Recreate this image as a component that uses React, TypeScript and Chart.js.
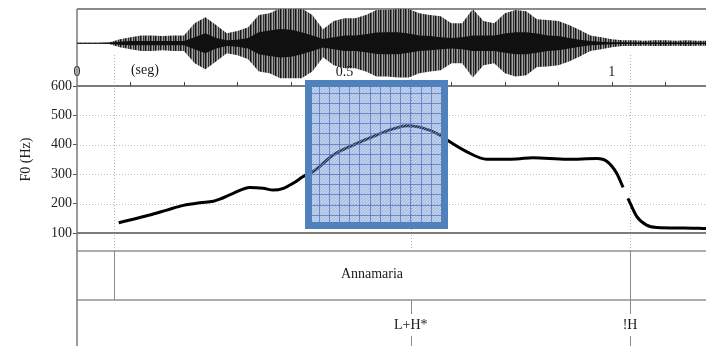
import { useEffect, useRef } from 'react';
import { Chart, registerables } from 'chart.js';

Chart.register(...registerables);

const SERIF = "'Liberation Serif', 'Times New Roman', serif";

// Waveform envelope, sampled every 20 ms (normalised amplitude)
const waveTimes = [
  0, 0.02, 0.04, 0.06, 0.08, 0.1, 0.12, 0.14, 0.16, 0.18,
  0.2, 0.22, 0.24, 0.26, 0.28, 0.3, 0.32, 0.34, 0.36, 0.38,
  0.4, 0.42, 0.44, 0.46, 0.48, 0.5, 0.52, 0.54, 0.56, 0.58,
  0.6, 0.62, 0.64, 0.66, 0.68, 0.7, 0.72, 0.74, 0.76, 0.78,
  0.8, 0.82, 0.84, 0.86, 0.88, 0.9, 0.92, 0.94, 0.96, 0.98,
  1.0, 1.02, 1.04, 1.06, 1.08, 1.1, 1.12, 1.14, 1.16, 1.18,
];
const waveOuter = [
  0.014, 0.014, 0.014, 0.022, 0.11, 0.17, 0.22, 0.22, 0.2, 0.22,
  0.22, 0.56, 0.73, 0.51, 0.28, 0.34, 0.45, 0.79, 0.84, 0.98,
  0.98, 0.98, 0.79, 0.39, 0.62, 0.7, 0.7, 0.79, 0.93, 0.93,
  0.96, 0.96, 0.84, 0.79, 0.76, 0.56, 0.56, 0.96, 0.62, 0.56,
  0.84, 0.93, 0.9, 0.67, 0.65, 0.62, 0.51, 0.37, 0.22, 0.17,
  0.11, 0.08, 0.08, 0.07, 0.08, 0.08, 0.07, 0.08, 0.07, 0.07,
];
const waveCore = [
  0.014, 0.014, 0.014, 0.017, 0.04, 0.06, 0.06, 0.06, 0.06, 0.06,
  0.06, 0.17, 0.28, 0.15, 0.08, 0.1, 0.15, 0.31, 0.36, 0.4,
  0.38, 0.31, 0.22, 0.12, 0.17, 0.22, 0.22, 0.25, 0.3, 0.31,
  0.31, 0.27, 0.22, 0.2, 0.17, 0.15, 0.17, 0.22, 0.22, 0.22,
  0.27, 0.31, 0.31, 0.27, 0.22, 0.2, 0.15, 0.1, 0.06, 0.04,
  0.03, 0.025, 0.02, 0.02, 0.02, 0.02, 0.02, 0.02, 0.02, 0.02,
];

// F0 contour (s, Hz); null marks the voicing break
const f0Times = [
  0.078, 0.105, 0.136, 0.168, 0.199, 0.23, 0.255, 0.267, 0.292, 0.323,
  0.348, 0.367, 0.386, 0.404, 0.423, 0.443, 0.479, 0.516, 0.553, 0.591,
  0.617, 0.641, 0.679, 0.692, 0.729, 0.766, 0.822, 0.852, 0.916, 0.972,
  0.991, 1.009, 1.021, 1.025, 1.03, 1.047, 1.065, 1.084, 1.133, 1.176,
];
const f0Hz = [
  135, 147, 161, 178, 194, 203, 208, 215, 235, 255,
  252, 246, 252, 269, 292, 311, 365, 399, 428, 454,
  465, 460, 433, 416, 376, 351, 352, 356, 351, 353,
  343, 303, 255, null, 218, 155, 127, 119, 117, 115,
];

const f0TickValues = [100, 200, 300, 400, 500, 600];
const timeMinorTicks = [0.1, 0.2, 0.3, 0.4, 0.5, 0.6, 0.7, 0.8, 0.9, 1.0, 1.1];
const timeLabelValues = [0, 0.5, 1];
const timeLabels = ['0', '0.5', '1'];
const timeUnit = '(seg)';
const timeUnitAt = 0.127;

// Annotation tiers
const words = ['Annamaria'];
const wordStarts = [0.069];
const wordEnds = [1.034];
const tones = ['L+H*', '!H'];
const toneTimes = [0.624, 1.034];

// Highlighted region (time span and Hz span)
const highlight = { from: 0.426, to: 0.6935, hzTop: 620, hzBottom: 113 };

const T_MAX = 1.176;

// vertical hairline texture for the oscillation band
function makeStripe(ctx: CanvasRenderingContext2D) {
  const c = document.createElement('canvas');
  c.width = 5;
  c.height = 1;
  const g = c.getContext('2d')!;
  ['#151515', '#5e5e5e', '#a8a8a8', '#2e2e2e', '#858585'].forEach((col, i) => {
    g.fillStyle = col;
    g.fillRect(i, 0, 1, 1);
  });
  return ctx.createPattern(c, 'repeat')!;
}

function makeSpeckle(ctx: CanvasRenderingContext2D) {
  const c = document.createElement('canvas');
  c.width = 3;
  c.height = 3;
  const g = c.getContext('2d')!;
  g.fillStyle = 'rgba(255,255,255,0.35)';
  g.fillRect(0, 0, 1, 1);
  g.fillRect(2, 1, 1, 1);
  g.fillRect(1, 2, 1, 1);
  return ctx.createPattern(c, 'repeat')!;
}

const crisp = (v: number) => Math.round(v) + 0.5;

const decorations = {
  id: 'decorations',
  beforeDatasetsDraw(chart: any) {
    const { ctx, chartArea: a, scales } = chart;
    const x = scales.x;
    const y = scales.y;
    const yt = scales.yt;
    const yw = scales.yw;
    ctx.save();

    // dotted F0 grid
    ctx.strokeStyle = '#c2c2c2';
    ctx.lineWidth = 1;
    ctx.setLineDash([1, 2]);
    for (const v of f0TickValues) {
      if (v === 100 || v === 600) continue;
      const py = crisp(y.getPixelForValue(v));
      ctx.beginPath();
      ctx.moveTo(a.left, py);
      ctx.lineTo(a.right, py);
      ctx.stroke();
    }

    // dotted time guides
    const guideTop = yw.getPixelForValue(-0.33);
    const tierTop = yt.getPixelForValue(0.841);
    ctx.strokeStyle = '#b4b4b4';
    for (const t of [wordStarts[0], toneTimes[0], wordEnds[0]]) {
      const px = crisp(x.getPixelForValue(t));
      ctx.beginPath();
      ctx.moveTo(px, guideTop);
      ctx.lineTo(px, tierTop);
      ctx.stroke();
    }
    ctx.setLineDash([]);

    // panel frame lines
    ctx.strokeStyle = '#8a8a8a';
    ctx.lineWidth = 2;
    ctx.beginPath();
    ctx.moveTo(a.left, a.top);
    ctx.lineTo(a.right, a.top);
    ctx.stroke();
    ctx.strokeStyle = '#7c7c7c';
    for (const v of [600, 100]) {
      const py = Math.round(y.getPixelForValue(v));
      ctx.beginPath();
      ctx.moveTo(a.left, py);
      ctx.lineTo(a.right, py);
      ctx.stroke();
    }

    // tier lines
    ctx.strokeStyle = '#929292';
    ctx.lineWidth = 1.5;
    for (const v of [0.841, 0.407]) {
      const py = Math.round(yt.getPixelForValue(v));
      ctx.beginPath();
      ctx.moveTo(a.left, py);
      ctx.lineTo(a.right, py);
      ctx.stroke();
    }

    // left axis line
    ctx.strokeStyle = '#7a7a7a';
    ctx.lineWidth = 1.5;
    ctx.beginPath();
    ctx.moveTo(a.left, a.top);
    ctx.lineTo(a.left, a.bottom);
    ctx.stroke();

    // time ticks
    const axisY = Math.round(y.getPixelForValue(600));
    ctx.strokeStyle = '#444';
    ctx.lineWidth = 1;
    for (const t of timeMinorTicks) {
      const px = crisp(x.getPixelForValue(t));
      ctx.beginPath();
      ctx.moveTo(px, axisY - 4);
      ctx.lineTo(px, axisY);
      ctx.stroke();
    }

    // word tier
    ctx.fillStyle = '#1a1a1a';
    ctx.font = `14px ${SERIF}`;
    ctx.textAlign = 'center';
    const wTop = Math.round(yt.getPixelForValue(0.841));
    const wBot = Math.round(yt.getPixelForValue(0.407));
    ctx.strokeStyle = '#8a8a8a';
    ctx.lineWidth = 1;
    words.forEach((w, i) => {
      for (const t of [wordStarts[i], wordEnds[i]]) {
        const px = crisp(x.getPixelForValue(t));
        ctx.beginPath();
        ctx.moveTo(px, wTop);
        ctx.lineTo(px, wBot);
        ctx.stroke();
      }
      const mid = (x.getPixelForValue(wordStarts[i]) + x.getPixelForValue(wordEnds[i])) / 2;
      ctx.textBaseline = 'middle';
      ctx.fillText(w, mid, yt.getPixelForValue(0.637));
    });

    // tone tier
    const segA = yt.getPixelForValue(0.283);
    const segB = yt.getPixelForValue(0.088);
    tones.forEach((tn, i) => {
      const px = crisp(x.getPixelForValue(toneTimes[i]));
      ctx.beginPath();
      ctx.moveTo(px, wBot);
      ctx.lineTo(px, segA);
      ctx.moveTo(px, segB);
      ctx.lineTo(px, a.bottom);
      ctx.stroke();
      ctx.fillText(tn, x.getPixelForValue(toneTimes[i]), yt.getPixelForValue(0.186));
    });

    ctx.restore();
  },
  afterDatasetsDraw(chart: any) {
    const { ctx, scales } = chart;
    const x = scales.x;
    const y = scales.y;
    ctx.save();

    // time labels sit on top of the waveform
    const axisY = Math.round(y.getPixelForValue(600));
    ctx.fillStyle = '#1a1a1a';
    ctx.font = `14px ${SERIF}`;
    ctx.textAlign = 'center';
    ctx.textBaseline = 'alphabetic';
    timeLabelValues.forEach((t, i) => {
      ctx.fillText(timeLabels[i], x.getPixelForValue(t), axisY - 10);
    });
    ctx.fillText(timeUnit, x.getPixelForValue(timeUnitAt), axisY - 12);

    // highlighted region
    const x1 = Math.round(x.getPixelForValue(highlight.from));
    const x2 = Math.round(x.getPixelForValue(highlight.to));
    const y1 = Math.round(y.getPixelForValue(highlight.hzTop));
    const y2 = Math.round(y.getPixelForValue(highlight.hzBottom));
    const bw = 7;
    ctx.fillStyle = '#4f81bd';
    ctx.fillRect(x1, y1, x2 - x1, bw);
    ctx.fillRect(x1, y2 - bw, x2 - x1, bw);
    ctx.fillRect(x1, y1, bw, y2 - y1);
    ctx.fillRect(x2 - bw, y1, bw, y2 - y1);
    const ix1 = x1 + bw, iy1 = y1 + bw, ix2 = x2 - bw, iy2 = y2 - bw;
    ctx.fillStyle = 'rgba(83,125,198,0.48)';
    ctx.fillRect(ix1, iy1, ix2 - ix1, iy2 - iy1);
    ctx.fillStyle = makeSpeckle(ctx);
    ctx.fillRect(ix1, iy1, ix2 - ix1, iy2 - iy1);
    ctx.strokeStyle = 'rgba(70,112,188,0.7)';
    ctx.lineWidth = 1;
    ctx.beginPath();
    for (let gx = ix1 + 6.7; gx < ix2; gx += 10.2) {
      ctx.moveTo(Math.round(gx) + 0.5, iy1);
      ctx.lineTo(Math.round(gx) + 0.5, iy2);
    }
    for (let gy = iy1 + 5.5; gy < iy2; gy += 10.2) {
      ctx.moveTo(ix1, Math.round(gy) + 0.5);
      ctx.lineTo(ix2, Math.round(gy) + 0.5);
    }
    ctx.stroke();
    ctx.restore();
  },
};

// every left panel axis gets the same width and no label overhang padding
const fixedWidth = (s: any) => {
  s.width = 77;
  s.paddingTop = 0;
  s.paddingBottom = 0;
};

export default function App() {
  const ref = useRef<HTMLCanvasElement>(null);

  useEffect(() => {
    const canvas = ref.current!;
    const ctx2d = canvas.getContext('2d')!;
    const stripe = makeStripe(ctx2d);

    const f0Points = f0Times.map((t, i) => ({ x: t, y: f0Hz[i] }));
    const outerTop = waveTimes.map((t, i) => ({ x: t, y: waveOuter[i] }));
    const outerBottom = waveTimes.map((t, i) => ({ x: t, y: -waveOuter[i] }));
    const coreTop = waveTimes.map((t, i) => ({ x: t, y: waveCore[i] }));
    const coreBottom = waveTimes.map((t, i) => ({ x: t, y: -waveCore[i] }));

    const chart = new Chart(canvas, {
      type: 'line',
      data: {
        datasets: [
          {
            label: 'F0',
            data: f0Points as any,
            yAxisID: 'y',
            borderColor: '#000',
            borderWidth: 3,
            pointRadius: 0,
            cubicInterpolationMode: 'monotone',
            spanGaps: false,
            fill: false,
          },
          {
            label: 'core+',
            data: coreTop,
            yAxisID: 'yw',
            borderWidth: 0,
            pointRadius: 0,
            backgroundColor: '#101010',
            fill: '+1',
          },
          {
            label: 'core-',
            data: coreBottom,
            yAxisID: 'yw',
            borderWidth: 0,
            pointRadius: 0,
            fill: false,
          },
          {
            label: 'wave+',
            data: outerTop,
            yAxisID: 'yw',
            borderWidth: 0,
            pointRadius: 0,
            backgroundColor: stripe as any,
            fill: '+1',
          },
          {
            label: 'wave-',
            data: outerBottom,
            yAxisID: 'yw',
            borderWidth: 0,
            pointRadius: 0,
            fill: false,
          },
        ],
      },
      options: {
        responsive: false,
        animation: false,
        layout: { padding: { top: 9, left: 0, right: 0, bottom: 0 } },
        plugins: {
          legend: { display: false },
          tooltip: { enabled: false },
        },
        scales: {
          x: { type: 'linear', min: 0, max: T_MAX, display: false },
          yt: {
            type: 'linear',
            position: 'left',
            stack: 'panels',
            stackWeight: 113,
            min: 0,
            max: 1,
            grid: { display: false },
            border: { display: false },
            ticks: { display: false },
            afterFit: fixedWidth,
          },
          y: {
            type: 'linear',
            position: 'left',
            stack: 'panels',
            stackWeight: 147,
            min: 100,
            max: 600,
            afterFit: fixedWidth,
            afterBuildTicks: (s: any) => {
              s.ticks = f0TickValues.map((v) => ({ value: v }));
            },
            ticks: {
              autoSkip: false,
              padding: 1,
              color: '#222',
              font: { family: SERIF, size: 14 },
            },
            grid: {
              display: true,
              drawOnChartArea: false,
              drawTicks: true,
              tickLength: 4,
              tickColor: '#555',
              tickWidth: 1,
            },
            border: { display: false },
            title: {
              display: true,
              text: 'F0 (Hz)',
              color: '#222',
              font: { family: SERIF, size: 14 },
              padding: { top: 18, bottom: 0 },
            },
          },
          yw: {
            type: 'linear',
            position: 'left',
            stack: 'panels',
            stackWeight: 77,
            min: -1.2,
            max: 0.96,
            grid: { display: false },
            border: { display: false },
            ticks: { display: false },
            afterFit: fixedWidth,
          },
        } as any,
      },
      plugins: [decorations],
    });

    return () => chart.destroy();
  }, []);

  return (
    <div style={{ position: 'fixed', left: 0, top: 0, width: 706, height: 346, background: '#fff' }}>
      <canvas ref={ref} width={706} height={346} style={{ display: 'block' }} />
    </div>
  );
}
